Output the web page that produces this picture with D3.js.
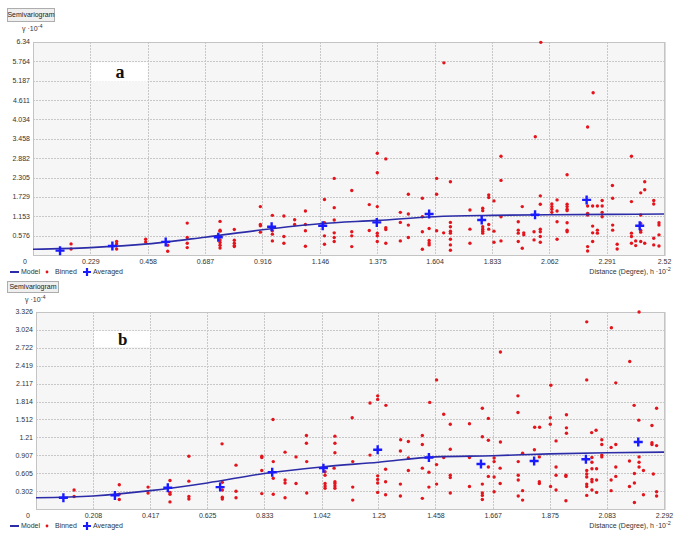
<!DOCTYPE html>
<html><head><meta charset="utf-8">
<script src="https://cdn.jsdelivr.net/npm/d3@7"></script>
<style>body{margin:0;background:#fff}svg{display:block}text{font-family:"Liberation Sans",Arial,sans-serif;fill:#333}</style>
</head><body>
<svg id="c" width="675" height="533"></svg>
<script>
// ---------- Panel a data ----------
const xTickLabelsA = ["0","0.229","0.458","0.687","0.916","1.146","1.375","1.604","1.833","2.062","2.291","2.52"];
const yTickLabelsA = ["0","0.576","1.153","1.729","2.305","2.882","3.458","4.034","4.611","5.187","5.764","6.34"];
const modelXA = [0,0.229,0.458,0.687,0.916,1.146,1.375,1.604,1.833,2.062,2.291,2.52];
const modelYA = [0.17,0.22,0.33,0.53,0.75,0.93,1.03,1.14,1.18,1.20,1.21,1.22];
const averagedA = [[0.108,0.13],[0.317,0.27],[0.530,0.39],[0.740,0.53],[0.953,0.84],[1.157,0.87],[1.373,0.97],[1.582,1.22],[1.792,1.04],[2.005,1.20],[2.211,1.64],[2.423,0.87]];
const binnedA = [[2.028,6.33],[1.641,5.72],[2.237,4.83],[2.215,3.81],[2.006,3.52],[1.203,2.28],
[1.375,3.03],[1.409,2.86],[1.375,2.45],[1.612,2.28],[1.667,2.18],[1.869,2.94],[1.869,2.22],[2.133,2.39],[2.314,2.07],[2.390,2.94],[2.443,2.18],[2.443,1.94],[1.273,1.92],
[0.152,0.33],[0.152,0.18],[0.334,0.40],[0.334,0.33],[0.334,0.18],[0.450,0.47],[0.450,0.39],[0.538,0.29],[0.538,0.11],[0.616,0.95],[0.616,0.52],[0.616,0.35],[0.616,0.22],[0.747,1.00],[0.747,0.74],[0.747,0.71],[0.747,0.45],[0.747,0.37],[0.747,0.29],[0.747,0.21],[0.804,0.76],[0.804,0.44],[0.804,0.35],[0.804,0.28],[0.804,0.25],[0.908,1.44],[0.908,0.91],[0.908,0.87],[0.908,0.68],[0.956,1.18],[0.956,0.72],[0.956,0.62],[0.956,0.42],[1.002,1.16],[1.002,0.55],[1.002,0.35],[1.045,1.05],[1.045,0.91],[1.088,1.31],[1.088,0.91],[1.088,0.72],[1.088,0.26],[1.164,1.65],[1.164,0.96],[1.164,0.57],[1.164,0.32],[1.203,1.41],[1.203,1.04],[1.203,0.66],[1.203,0.52],[1.203,0.40],
[1.273,0.69],[1.273,0.57],[1.273,0.25],[1.343,1.50],[1.343,0.73],[1.375,1.44],[1.375,0.65],[1.375,0.57],[1.375,0.40],[1.409,0.81],[1.409,0.76],[1.409,0.35],[1.467,1.27],[1.467,0.97],[1.467,0.42],[1.499,1.81],[1.499,1.22],[1.499,0.89],[1.499,0.52],[1.555,1.69],[1.555,1.14],[1.555,0.69],[1.555,0.17],[1.582,0.79],[1.582,0.43],[1.582,0.36],[1.582,0.30],[1.612,1.81],[1.612,0.72],[1.640,0.66],[1.667,0.97],[1.667,0.84],[1.667,0.71],[1.667,0.65],[1.667,0.47],[1.667,0.30],[1.667,0.14],[1.745,1.34],[1.745,0.77],[1.745,0.35],[1.796,1.39],[1.796,1.32],[1.796,0.84],[1.796,0.77],[1.796,0.71],[1.796,0.65],[1.820,1.79],[1.820,1.71],[1.820,0.91],[1.820,0.77],[1.841,1.61],[1.841,0.71],[1.841,0.38],[1.869,1.14],[1.869,0.42],[1.938,0.99],[1.938,0.74],[1.938,0.65],[1.938,0.40],[1.954,1.44],[1.954,0.20],[1.960,0.66],[1.960,0.60],[2.001,0.69],[2.001,0.45],[2.026,1.76],[2.026,1.51],[2.026,0.77],[2.026,0.69],[2.026,0.55],[2.026,0.38],[2.072,1.52],[2.072,1.44],[2.072,1.36],[2.072,1.27],[2.093,1.64],[2.093,1.31],[2.093,0.99],[2.093,0.47],[2.133,1.51],[2.133,1.44],[2.133,1.36],[2.133,1.32],[2.133,0.96],[2.133,0.74],[2.133,0.69],[2.215,1.46],[2.215,1.24],[2.215,1.19],[2.215,0.25],[2.215,0.12],[2.235,1.46],[2.235,0.86],[2.235,0.66],[2.235,0.40],[2.254,1.46],[2.254,0.74],[2.254,0.65],[2.273,1.62],[2.273,1.46],[2.273,1.27],[2.273,1.14],[2.315,1.69],[2.315,0.89],[2.315,0.74],[2.333,0.32],[2.333,0.18],[2.390,1.59],[2.390,0.65],[2.390,0.55],[2.390,0.35],[2.407,0.42],[2.407,0.28],[2.427,1.85],[2.427,1.19],[2.427,0.94],[2.427,0.74],[2.427,0.68],[2.427,0.40],[2.443,0.35],[2.479,1.62],[2.479,1.52],[2.479,0.50],[2.479,0.30],[2.500,0.96],[2.500,0.89],[2.500,0.60],[2.500,0.27]];

// ---------- Panel b data ----------
const xTickLabelsB = ["0","0.208","0.417","0.625","0.833","1.042","1.25","1.458","1.667","1.875","2.083","2.292"];
const yTickLabelsB = ["0","0.302","0.605","0.907","1.21","1.512","1.814","2.117","2.419","2.722","3.024","3.326"];
const modelXB = [0,0.208,0.417,0.625,0.833,1.042,1.25,1.458,1.667,1.875,2.083,2.292];
const modelYB = [0.19,0.22,0.31,0.44,0.60,0.71,0.79,0.88,0.90,0.93,0.95,0.96];
const averagedB = [[0.100,0.19],[0.288,0.23],[0.481,0.36],[0.672,0.37],[0.862,0.62],[1.049,0.69],[1.247,1.00],[1.434,0.87],[1.624,0.76],[1.818,0.81],[2.007,0.84],[2.198,1.13]];
const binnedB = [[2.201,3.326],[2.010,3.16],[2.100,3.06],[1.695,2.65],[2.167,2.49],[1.462,2.18],[2.010,2.18],[2.116,2.13],[1.879,2.09],[1.759,1.91],[1.247,1.91],[1.247,1.85],[1.219,1.79],[1.277,1.75],[1.437,1.80],[1.629,1.70],[2.183,1.75],[2.265,1.70],
[1.154,1.54],[1.488,1.60],[1.759,1.63],[1.512,1.43],[1.582,1.44],[1.651,1.53],[1.877,1.54],[1.877,1.43],[1.936,1.59],[1.820,1.38],[1.838,1.38],[1.936,1.37],[1.936,1.28],[2.028,1.29],[2.044,1.33],[2.200,1.50],[2.248,1.41],[1.331,1.17],[1.359,1.14],[1.410,1.24],[1.410,1.09],[1.629,1.22],[1.651,1.16],[1.695,1.13],[1.898,1.15],[2.065,1.17],[2.065,1.09],[2.116,1.09],[2.099,1.04],[2.248,1.12],[2.248,1.09],[2.265,1.07],[1.512,1.01],[1.819,1.00],
[0.865,1.51],[0.987,1.24],[0.987,1.11],[1.091,1.23],[1.091,1.11],[0.679,1.10],
[0.139,0.32],[0.139,0.21],[0.304,0.41],[0.304,0.25],[0.304,0.16],[0.409,0.37],[0.409,0.27],[0.489,0.48],[0.489,0.28],[0.489,0.25],[0.489,0.12],[0.558,0.89],[0.558,0.47],[0.558,0.21],[0.558,0.17],[0.680,0.45],[0.680,0.32],[0.680,0.20],[0.680,0.17],[0.730,0.74],[0.730,0.30],[0.730,0.19],[0.824,0.89],[0.824,0.87],[0.824,0.65],[0.824,0.26],[0.866,0.80],[0.866,0.52],[0.866,0.25],[0.909,0.96],[0.909,0.49],[0.909,0.44],[0.909,0.19],[0.949,0.88],[0.949,0.43],[0.988,0.80],[0.988,0.27],[1.055,0.63],[1.055,0.57],[1.055,0.43],[1.055,0.39],[1.055,0.35],[1.091,0.95],[1.091,0.46],[1.091,0.43],[1.091,0.39],[1.091,0.35],
[1.088,0.69],[1.156,0.80],[1.156,0.37],[1.156,0.15],[1.219,0.91],[1.247,0.56],[1.247,0.50],[1.247,0.44],[1.247,0.28],[1.276,0.67],[1.276,0.46],[1.276,0.24],[1.330,0.98],[1.330,0.42],[1.330,0.22],[1.359,0.86],[1.359,0.65],[1.410,0.69],[1.410,0.18],[1.434,0.62],[1.434,0.37],[1.462,0.75],[1.462,0.42],[1.488,0.87],[1.512,0.57],[1.512,0.53],[1.512,0.27],[1.582,0.87],[1.582,0.38],[1.629,0.42],[1.629,0.27],[1.629,0.23],[1.629,0.16],[1.651,0.55],[1.651,0.71],[1.672,0.86],[1.672,0.80],[1.672,0.54],[1.672,0.29],[1.694,0.69],[1.694,0.43],[1.760,0.80],[1.760,0.57],[1.760,0.49],[1.760,0.22],[1.776,0.94],[1.776,0.31],[1.776,0.15],[1.837,0.88],[1.837,0.46],[1.837,0.43],[1.878,0.38],[1.898,0.71],[1.898,0.57],[1.898,0.32],[1.934,0.57],[1.934,0.55],[1.934,0.14],[2.010,0.65],[2.010,0.59],[2.010,0.54],[2.010,0.42],[2.010,0.38],[2.010,0.23],[2.029,0.87],[2.029,0.79],[2.029,0.68],[2.029,0.50],[2.029,0.46],[2.029,0.32],[2.046,0.68],[2.046,0.49],[2.046,0.28],[2.065,0.91],[2.065,0.88],[2.099,0.49],[2.099,0.31],[2.116,0.71],[2.116,0.55],[2.166,0.81],[2.166,0.38],[2.184,0.60],[2.184,0.44],[2.184,0.11],[2.201,0.88],[2.201,0.79],[2.201,0.71],[2.217,0.65],[2.217,0.24],[2.253,0.59],[2.265,0.29],[2.265,0.22]];

const legendLabels = ["Model","Binned","Averaged"];
const buttonLabel = "Semivariogram";
const yAxisTitle = ["γ ·10", "-4"];
const xAxisTitle = ["Distance (Degree), h ·10", "-2"];

const svg = d3.select("#c");

function panel(cfg){
  const g = svg.append("g");
  const xT = cfg.xTicks.map(Number), yT = cfg.yTicks.map(Number);
  const x = d3.scaleLinear().domain([0, xT[xT.length-1]]).range([cfg.l, cfg.r]);
  const y = d3.scaleLinear().domain([0, yT[yT.length-1]]).range([cfg.b, cfg.t]);

  // button
  g.append("rect").attr("x",cfg.btn[0]+0.5).attr("y",cfg.btn[1]+0.5).attr("width",cfg.btn[2]).attr("height",cfg.btn[3])
    .attr("fill","#efefef").attr("stroke","#adadad");
  g.append("text").attr("x",cfg.btn[0]+cfg.btn[2]/2+0.5).attr("y",cfg.btn[1]+cfg.btn[3]/2+0.5).attr("dy","0.35em")
    .attr("text-anchor","middle").attr("font-size",7).style("fill","#222").text(buttonLabel);

  // y title
  const yt = g.append("text").attr("x",cfg.ytx).attr("y",cfg.yty).attr("font-size",7);
  yt.append("tspan").text(yAxisTitle[0]);
  yt.append("tspan").attr("dy",-3).attr("font-size",5.5).text(yAxisTitle[1]);

  // plot background
  g.append("rect").attr("x",cfg.l).attr("y",cfg.t).attr("width",cfg.r-cfg.l).attr("height",cfg.b-cfg.t)
    .attr("fill","#f6f6f6");

  // grid
  g.selectAll(".gx").data(xT.slice(1,-1)).join("line")
    .attr("x1",d=>Math.round(x(d))+0.5).attr("x2",d=>Math.round(x(d))+0.5).attr("y1",cfg.t).attr("y2",cfg.b)
    .attr("stroke","#c8c8c8").attr("stroke-dasharray","2,1");
  g.selectAll(".gy").data(yT.slice(1,-1)).join("line")
    .attr("y1",d=>Math.round(y(d))+0.5).attr("y2",d=>Math.round(y(d))+0.5).attr("x1",cfg.l).attr("x2",cfg.r)
    .attr("stroke","#c8c8c8").attr("stroke-dasharray","2,1");

  // border
  g.append("rect").attr("x",cfg.l+0.5).attr("y",cfg.t+0.5).attr("width",cfg.r-cfg.l).attr("height",cfg.b-cfg.t)
    .attr("fill","none").attr("stroke","#c4c4c4");
  g.append("line").attr("x1",cfg.r+1.5).attr("x2",cfg.r+1.5).attr("y1",cfg.t).attr("y2",cfg.b+1).attr("stroke","#dcdcdc");

  // letter box
  const lb = cfg.letterBox;
  g.append("rect").attr("x",x(xT[lb[0]])+1).attr("y",y(yT[lb[3]])+1)
    .attr("width",x(xT[lb[1]])-x(xT[lb[0]])-1).attr("height",(y(yT[lb[2]])-y(yT[lb[3]]))*lb[4])
    .attr("fill","#fff");
  g.append("text").attr("x",(x(xT[lb[0]])+x(xT[lb[1]]))/2+1).attr("y",y(yT[lb[3]])+1+(y(yT[lb[2]])-y(yT[lb[3]]))*lb[4]/2)
    .attr("dy","0.35em").attr("text-anchor","middle")
    .style("font-family","'Liberation Serif','Times New Roman',serif").style("font-weight","bold").style("fill","#111")
    .attr("font-size",cfg.letterSize).text(cfg.letter);

  // y tick labels
  g.selectAll(".yl").data(cfg.yTicks.slice(1)).join("text")
    .attr("x",cfg.l-3).attr("y",d=>y(+d)).attr("dy","0.35em").attr("text-anchor","end").attr("font-size",7).text(d=>d);
  // x tick labels
  g.selectAll(".xl").data(cfg.xTicks.slice(1)).join("text")
    .attr("x",d=>x(+d)+0.5).attr("y",cfg.b+7).attr("dy","0.35em").attr("text-anchor","middle").attr("font-size",7).text(d=>d);
  g.append("text").attr("x",x(0)-8).attr("y",cfg.b+7).attr("dy","0.35em").attr("text-anchor","middle").attr("font-size",7).text(cfg.xTicks[0]);

  // binned
  g.selectAll(".bn").data(cfg.binned).join("circle")
    .attr("cx",d=>x(d[0])).attr("cy",d=>y(d[1])).attr("r",1.7).attr("fill","#e3141c");
  // model
  const line = d3.line().x(d=>x(d[0])).y(d=>y(d[1])).curve(d3.curveMonotoneX);
  g.append("path").datum(cfg.modelX.map((v,i)=>[v,cfg.modelY[i]])).attr("d",line)
    .attr("fill","none").attr("stroke","#2c2ca8").attr("stroke-width",1.6);
  // averaged
  g.selectAll(".av").data(cfg.averaged).join("path")
    .attr("transform",d=>`translate(${x(d[0])},${y(d[1])})`).attr("d","M-4.5,0H4.5M0,-4.5V4.5")
    .attr("stroke","#1a1aff").attr("stroke-width",2.4);

  // legend
  const ly = cfg.legY;
  g.append("line").attr("x1",10).attr("x2",19).attr("y1",ly).attr("y2",ly).attr("stroke","#2c2ca8").attr("stroke-width",2);
  g.append("text").attr("x",21).attr("y",ly).attr("dy","0.35em").attr("font-size",7).text(legendLabels[0]);
  g.append("circle").attr("cx",47).attr("cy",ly).attr("r",1.4).attr("fill","#e3141c");
  g.append("text").attr("x",55).attr("y",ly).attr("dy","0.35em").attr("font-size",7).text(legendLabels[1]);
  g.append("path").attr("transform",`translate(87,${ly})`).attr("d","M-4,0H4M0,-4V4").attr("stroke","#1a1aff").attr("stroke-width",2.2);
  g.append("text").attr("x",93).attr("y",ly).attr("dy","0.35em").attr("font-size",7).text(legendLabels[2]);

  // x title
  const xt = g.append("text").attr("x",666).attr("y",ly).attr("dy","0.35em").attr("text-anchor","end").attr("font-size",7);
  xt.append("tspan").text(xAxisTitle[0]);
  g.append("text").attr("x",666).attr("y",ly-3).attr("dy","0.35em").attr("font-size",5.5).text(xAxisTitle[1]);
}

panel({l:33,r:664,t:42,b:255, xTicks:xTickLabelsA, yTicks:yTickLabelsA, modelX:modelXA, modelY:modelYA,
  binned:binnedA, averaged:averagedA, letter:"a", letterBox:[1,2,9,10,1], letterSize:18,
  btn:[7,8,47,13], ytx:22, yty:31, legY:272});
panel({l:36,r:664,t:312,b:509, xTicks:xTickLabelsB, yTicks:yTickLabelsB, modelX:modelXB, modelY:modelYB,
  binned:binnedB, averaged:averagedB, letter:"b", letterBox:[1,2,9,10,0.9], letterSize:17,
  btn:[7,281,51,11], ytx:25, yty:302, legY:526});
</script>
</body></html>
